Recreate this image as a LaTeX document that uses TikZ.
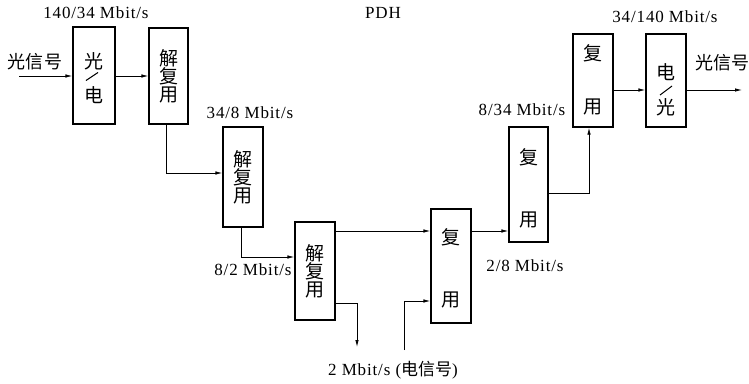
\documentclass[tikz,border=0pt]{standalone}
\usepackage{fontspec}
\setmainfont[LetterSpace=5]{Liberation Serif}
\newfontfamily\cjk{Noto Sans CJK SC}
\usetikzlibrary{arrows.meta}
\begin{document}
\begin{tikzpicture}[x=1pt,y=-1pt,
  blk/.style={draw,line width=1.3pt,inner sep=0pt,minimum width=40pt,align=center,font=\cjk\fontsize{19}{18}\selectfont},
  ch/.style={inner sep=0pt,font=\cjk\fontsize{19}{18}\selectfont},
  lbl/.style={font=\fontsize{17}{18}\selectfont,inner sep=0pt},
  clbl/.style={font=\cjk\fontsize{18}{18}\selectfont,inner sep=0pt},
  conn/.style={line width=0.8pt,-{Latex[length=7pt,width=3.5pt]}},
  sl/.style={line width=1pt}]
\useasboundingbox (0,0) rectangle (749,383);
% boxes
\node[blk,minimum width=42pt,minimum height=97pt] (b1) at (94,75.5) {};
\node[blk,minimum width=39pt,minimum height=96pt] (b2) at (168.5,76) {解\\复\\用};
\node[blk,minimum height=100pt] (b3) at (243,177) {解\\复\\用};
\node[blk,minimum height=98pt] (b4) at (315,271) {解\\复\\用};
\node[blk,minimum height=114pt] (b5) at (451,266) {};
\node[blk,minimum width=39pt,minimum height=115pt] (b6) at (528.5,184.5) {};
\node[blk,minimum height=93pt] (b7) at (593,80.5) {};
\node[blk,minimum height=93pt] (b8) at (666,80.5) {};
% box texts
\node[ch] (t1a) at (94,61) {光};
\node[ch] (t1b) at (94,95) {电};
\node[ch] (t5a) at (451,237) {复};
\node[ch] (t5b) at (451,300) {用};
\node[ch] (t6a) at (528.5,157) {复};
\node[ch] (t6b) at (528.5,220) {用};
\node[ch] (t7a) at (593,53) {复};
\node[ch] (t7b) at (593,107) {用};
\node[ch] (t8a) at (666,72) {电};
\node[ch] (t8b) at (666,107) {光};
% slashes
\draw[sl] (86,80.5) -- (98,72.5);
\draw[sl] (660,95) -- (672,86);
% labels
\node[lbl] (l1) at (96,13) {140/34 Mbit/s};
\node[lbl] (lp) at (383,13) {PDH};
\node[lbl] (l2) at (250,113) {34/8 Mbit/s};
\node[lbl] (l3) at (253,270) {8/2 Mbit/s};
\node[lbl] (l4) at (525,266) {2/8 Mbit/s};
\node[lbl] (l5) at (522,110) {8/34 Mbit/s};
\node[lbl] (l6) at (665,17) {34/140 Mbit/s};
\node[clbl] (in) at (35,62) {光信号};
\node[clbl,anchor=west] (out) at (695,63) {光信号};
\node[lbl] (l7) at (393,370) {2 Mbit/s ({\cjk 电信号})};
% connector endpoints
\coordinate (s0) at (19,76);
\coordinate (e0) at (742,90);
\coordinate (d1) at (357,347);
\coordinate (u1) at (404,350);
% connectors
\draw[conn] (s0) -- (b1.west |- s0);
\draw[conn] (b1.east |- s0) -- (b2.west |- s0);
\draw[conn] (b2.south -| 166,0) |- (b3.west |- 0,173);
\draw[conn] (b3.south -| 241,0) |- (b4.west |- 0,257);
\draw[conn] (b4.east |- 0,231) -- (b5.west |- 0,231);
\draw[conn] (b4.east |- 0,303) -| (d1);
\draw[conn] (u1) |- (b5.west |- 0,301);
\draw[conn] (b5.east |- 0,231) -- (b6.west |- 0,231);
\draw[conn] (b6.east |- 0,193) -| (b7.south -| 589,0);
\draw[conn] (b7.east |- 0,90) -- (b8.west |- 0,90);
\draw[conn] (b8.east |- 0,90) -- (e0);
\end{tikzpicture}
\end{document}
